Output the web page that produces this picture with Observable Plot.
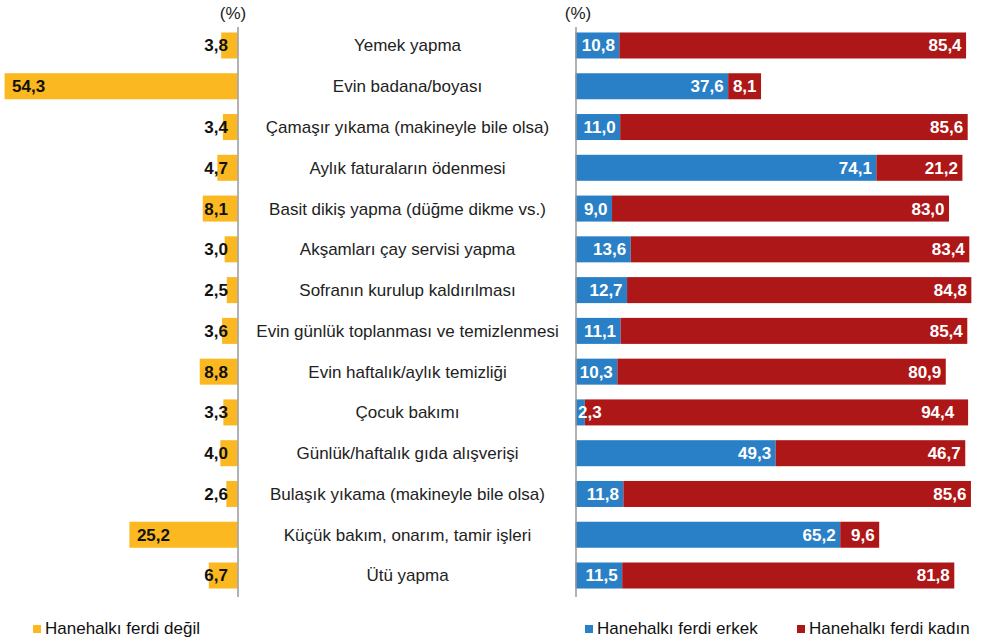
<!DOCTYPE html>
<html>
<head>
<meta charset="utf-8">
<script src="https://cdn.jsdelivr.net/npm/d3@7"></script>
<script src="https://cdn.jsdelivr.net/npm/@observablehq/plot@0.6"></script>
<style>
  html, body { margin: 0; padding: 0; background: #fff; }
  #wrap { position: relative; width: 983px; height: 643px; font-family: "Liberation Sans", Arial, sans-serif; }
  #left, #right { position: absolute; top: 0; }
  #left { left: 0; }
  #right { left: 240px; }
  .lg { position: absolute; top: 619px; font-size: 17px; color: #111; display: flex; align-items: center; white-space: nowrap; }
  .lg i { display: inline-block; width: 8px; height: 8px; margin-right: 4px; }
</style>
</head>
<body>
<div id="wrap">
  <div id="left"></div>
  <div id="right"></div>
  <div class="lg" style="left:33px"><i style="background:#FBB820"></i>Hanehalkı ferdi değil</div>
  <div class="lg" style="left:585px"><i style="background:#2A80C6"></i>Hanehalkı ferdi erkek</div>
  <div class="lg" style="left:797px"><i style="background:#AE1717"></i>Hanehalkı ferdi kadın</div>
</div>
<script>
const categories = [
  "Yemek yapma",
  "Evin badana/boyası",
  "Çamaşır yıkama (makineyle bile olsa)",
  "Aylık faturaların ödenmesi",
  "Basit dikiş yapma (düğme dikme vs.)",
  "Akşamları çay servisi yapma",
  "Sofranın kurulup kaldırılması",
  "Evin günlük toplanması ve temizlenmesi",
  "Evin haftalık/aylık temizliği",
  "Çocuk bakımı",
  "Günlük/haftalık gıda alışverişi",
  "Bulaşık yıkama (makineyle bile olsa)",
  "Küçük bakım, onarım, tamir işleri",
  "Ütü yapma"
];
const degil = [3.8, 54.3, 3.4, 4.7, 8.1, 3.0, 2.5, 3.6, 8.8, 3.3, 4.0, 2.6, 25.2, 6.7];
const erkek = [10.8, 37.6, 11.0, 74.1, 9.0, 13.6, 12.7, 11.1, 10.3, 2.3, 49.3, 11.8, 65.2, 11.5];
const kadin = [85.4, 8.1, 85.6, 21.2, 83.0, 83.4, 84.8, 85.4, 80.9, 94.4, 46.7, 85.6, 9.6, 81.8];
const seriesNames = ["Hanehalkı ferdi erkek", "Hanehalkı ferdi kadın"];

const fmt = v => v.toFixed(1).replace(".", ",");
const font = "Liberation Sans, Arial, sans-serif";
const ORANGE = "#FBB820", BLUE = "#2A80C6", RED = "#AE1717", AXIS = "#999";

const leftData = categories.map((c, i) => ({cat: c, value: degil[i]}));
const rightData = [];
categories.forEach((c, i) => {
  rightData.push({cat: c, series: seriesNames[0], value: erkek[i]});
  rightData.push({cat: c, series: seriesNames[1], value: kadin[i]});
});

const yScale = {domain: categories, range: [25.1, 595.9], paddingInner: 0.362, paddingOuter: 0.181, round: false, axis: null};

const left = Plot.plot({
  width: 240, height: 600,
  marginTop: 27, marginBottom: 3, marginLeft: 0, marginRight: 0,
  style: {fontFamily: font, background: "transparent", overflow: "visible"},
  x: {domain: [0, 55], range: [237.5, 1.6], axis: null},
  y: yScale,
  marks: [
    Plot.barX(leftData, {x: "value", y: "cat", fill: ORANGE}),
    Plot.ruleX([0], {stroke: AXIS, strokeWidth: 1.5}),
    Plot.text(leftData.filter(d => d.value >= 15), {x: "value", y: "cat", text: d => fmt(d.value), textAnchor: "start", dx: 7, fontSize: 17, fontWeight: "bold", fill: "#111"}),
    Plot.text(leftData.filter(d => d.value < 15), {x: 0, y: "cat", text: d => fmt(d.value), textAnchor: "end", dx: -10, fontSize: 17, fontWeight: "bold", fill: "#111"}),
    Plot.text(["(%)"], {x: 0, text: d => d, frameAnchor: "top", lineAnchor: "middle", dy: -14, dx: -5, fontSize: 17, fill: "#222"})
  ]
});
document.getElementById("left").appendChild(left);

const right = Plot.plot({
  width: 743, height: 600,
  marginTop: 27, marginBottom: 3, marginLeft: 0, marginRight: 0,
  style: {fontFamily: font, background: "transparent", overflow: "visible"},
  x: {domain: [0, 100], range: [335.5, 741.5], axis: null},
  y: yScale,
  color: {domain: seriesNames, range: [BLUE, RED]},
  marks: [
    Plot.barX(rightData, {x: "value", y: "cat", fill: "series"}),
    Plot.ruleX([0], {stroke: AXIS, strokeWidth: 1.5}),
    Plot.text(rightData, Plot.stackX2({x: "value", y: "cat", z: "series", text: d => fmt(d.value), textAnchor: "end", dx: -5, fontSize: 17, fontWeight: "bold", fill: "white", filter: d => !(d.series === seriesNames[0] && d.value < 5)})),
    Plot.text(rightData.filter(d => d.series === seriesNames[0] && d.value < 5), {x: 0, y: "cat", text: d => fmt(d.value), textAnchor: "start", dx: 2, fontSize: 17, fontWeight: "bold", fill: "white"}),
    Plot.text(categories, {y: d => d, text: d => d, frameAnchor: "left", textAnchor: "middle", dx: 167, fontSize: 17, fill: "#222"}),
    Plot.text(["(%)"], {x: 0, text: d => d, frameAnchor: "top", lineAnchor: "middle", dy: -14, dx: 2, fontSize: 17, fill: "#222"})
  ]
});
document.getElementById("right").appendChild(right);
</script>
</body>
</html>
